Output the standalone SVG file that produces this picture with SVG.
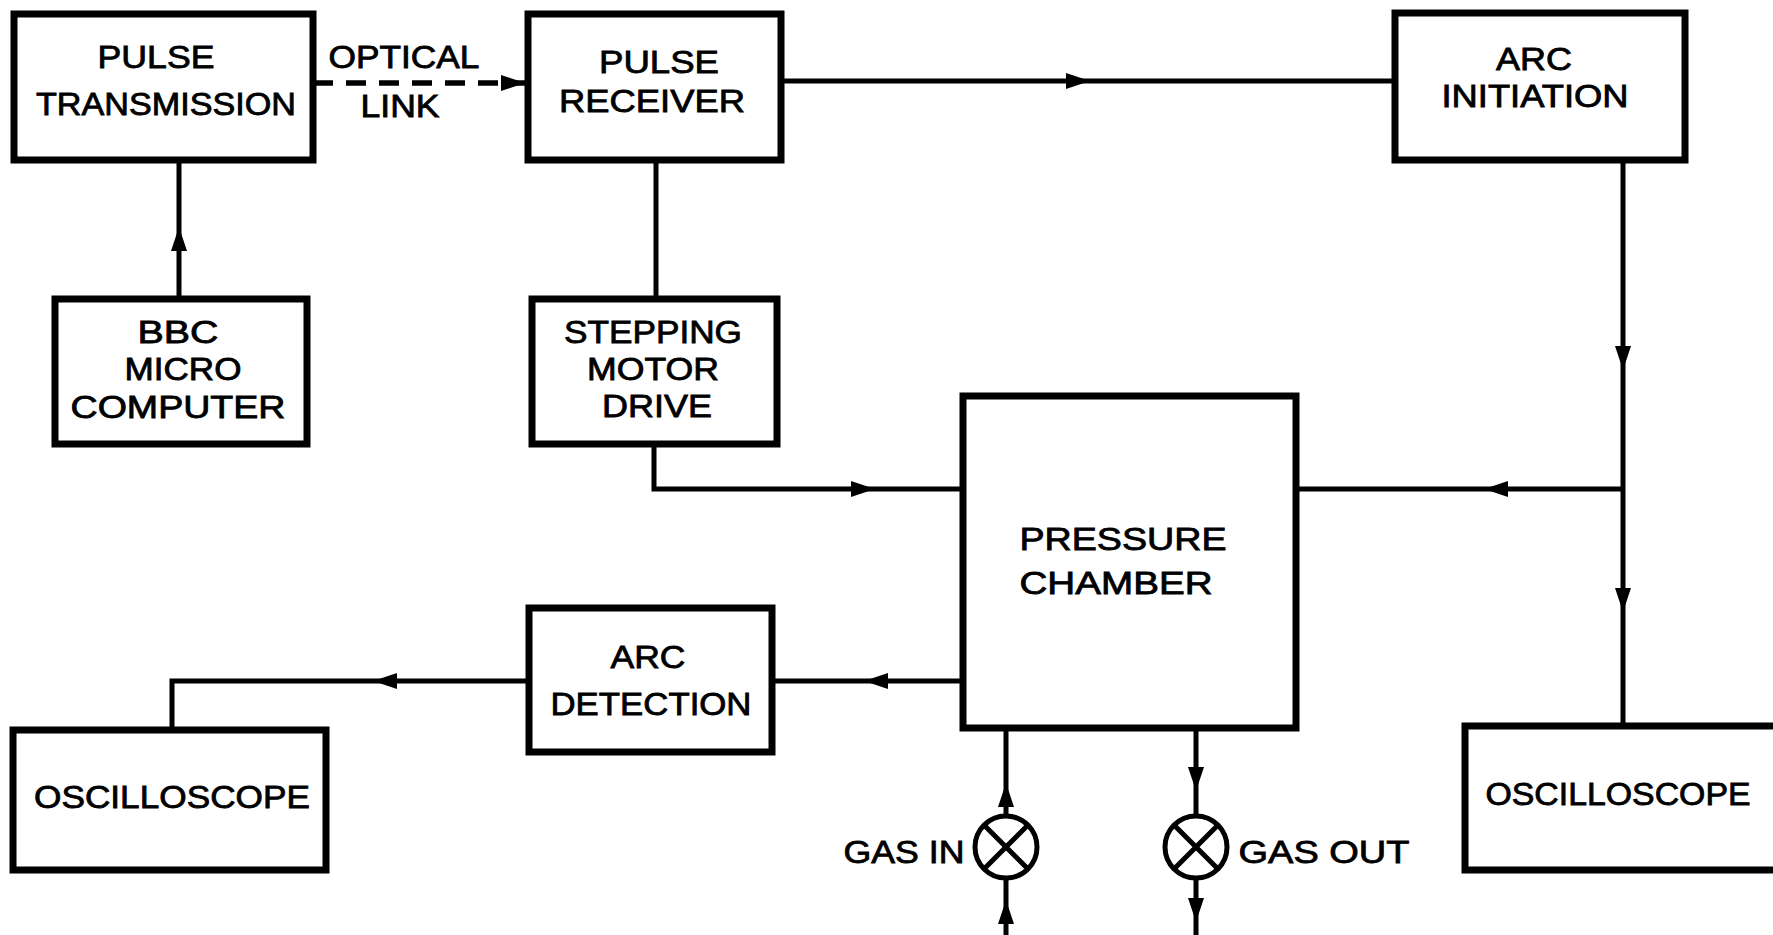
<svg xmlns="http://www.w3.org/2000/svg" xmlns:xlink="http://www.w3.org/1999/xlink" width="1773" height="935" viewBox="0 0 1773 935">
<style>
.box{fill:#fff;stroke:#000;stroke-width:7}
.ln{fill:none;stroke:#000;stroke-width:5}
.dash{fill:none;stroke:#000;stroke-width:5.5;stroke-dasharray:20 13}
.t{font-family:"Liberation Sans",Arial,sans-serif;font-size:31px;fill:#000;stroke:#000;stroke-width:0.8;text-anchor:middle}
.valve{fill:#fff;stroke:#000;stroke-width:5}
</style>
<defs>
<path id="ah" d="M0,0 L-24,-8 L-24,8 Z" fill="#000"/>
<marker id="me" markerUnits="userSpaceOnUse" markerWidth="26" markerHeight="20" refX="24" refY="10" orient="auto">
<path d="M0,2 L24,10 L0,18 Z" fill="#000"/>
</marker>
</defs>
<rect width="1773" height="935" fill="#fff"/>
<g id="connectors">
<path class="dash" d="M313,83 L525,83" marker-end="url(#me)"/>
<path class="ln" d="M781,81 L1395,81"/>
<use xlink:href="#ah" transform="translate(1090,81)"/>
<path class="ln" d="M179,160 L179,299"/>
<use xlink:href="#ah" transform="translate(179,227) rotate(-90)"/>
<path class="ln" d="M656,160 L656,299"/>
<path class="ln" d="M654,444 L654,489 L963,489"/>
<use xlink:href="#ah" transform="translate(875,489)"/>
<path class="ln" d="M1623,160 L1623,726"/>
<use xlink:href="#ah" transform="translate(1623,370) rotate(90)"/>
<use xlink:href="#ah" transform="translate(1623,612) rotate(90)"/>
<path class="ln" d="M1623,489 L1296,489"/>
<use xlink:href="#ah" transform="translate(1484,489) rotate(180)"/>
<path class="ln" d="M963,681 L772,681"/>
<use xlink:href="#ah" transform="translate(864,681) rotate(180)"/>
<path class="ln" d="M529,681 L172,681 L172,730"/>
<use xlink:href="#ah" transform="translate(373,681) rotate(180)"/>
<path class="ln" d="M1006,728 L1006,815"/>
<use xlink:href="#ah" transform="translate(1006,783) rotate(-90)"/>
<path class="ln" d="M1006,879 L1006,935"/>
<use xlink:href="#ah" transform="translate(1006,900) rotate(-90)"/>
<path class="ln" d="M1196,728 L1196,815"/>
<use xlink:href="#ah" transform="translate(1196,791) rotate(90)"/>
<path class="ln" d="M1196,879 L1196,935"/>
<use xlink:href="#ah" transform="translate(1196,922) rotate(90)"/>
</g>
<g id="optical_link_label">
<text class="t" x="404" y="68" textLength="151" lengthAdjust="spacingAndGlyphs">OPTICAL</text>
<text class="t" x="400" y="117" textLength="79" lengthAdjust="spacingAndGlyphs">LINK</text>
</g>
<g id="pulse_transmission">
<rect class="box" x="14" y="14" width="299" height="146"/>
<text class="t" x="156" y="68" textLength="117" lengthAdjust="spacingAndGlyphs">PULSE</text>
<text class="t" x="166" y="115" textLength="260" lengthAdjust="spacingAndGlyphs">TRANSMISSION</text>
</g>
<g id="pulse_receiver">
<rect class="box" x="528" y="14" width="253" height="146"/>
<text class="t" x="659" y="73" textLength="120" lengthAdjust="spacingAndGlyphs">PULSE</text>
<text class="t" x="652" y="112" textLength="186" lengthAdjust="spacingAndGlyphs">RECEIVER</text>
</g>
<g id="arc_initiation">
<rect class="box" x="1395" y="13" width="290" height="147"/>
<text class="t" x="1534" y="70" textLength="76" lengthAdjust="spacingAndGlyphs">ARC</text>
<text class="t" x="1535" y="107" textLength="187" lengthAdjust="spacingAndGlyphs">INITIATION</text>
</g>
<g id="bbc_micro_computer">
<rect class="box" x="55" y="299" width="252" height="145"/>
<text class="t" x="178" y="343" textLength="81" lengthAdjust="spacingAndGlyphs">BBC</text>
<text class="t" x="183" y="380" textLength="117" lengthAdjust="spacingAndGlyphs">MICRO</text>
<text class="t" x="178" y="418" textLength="215" lengthAdjust="spacingAndGlyphs">COMPUTER</text>
</g>
<g id="stepping_motor_drive">
<rect class="box" x="532" y="299" width="245" height="145"/>
<text class="t" x="653" y="343" textLength="178" lengthAdjust="spacingAndGlyphs">STEPPING</text>
<text class="t" x="653" y="380" textLength="132" lengthAdjust="spacingAndGlyphs">MOTOR</text>
<text class="t" x="657" y="417" textLength="110" lengthAdjust="spacingAndGlyphs">DRIVE</text>
</g>
<g id="pressure_chamber">
<rect class="box" x="963" y="396" width="333" height="332"/>
<text class="t" x="1123" y="550" textLength="207" lengthAdjust="spacingAndGlyphs">PRESSURE</text>
<text class="t" x="1116" y="594" textLength="193" lengthAdjust="spacingAndGlyphs">CHAMBER</text>
</g>
<g id="arc_detection">
<rect class="box" x="529" y="608" width="243" height="144"/>
<text class="t" x="648" y="668" textLength="75" lengthAdjust="spacingAndGlyphs">ARC</text>
<text class="t" x="651" y="715" textLength="201" lengthAdjust="spacingAndGlyphs">DETECTION</text>
</g>
<g id="oscilloscope_left">
<rect class="box" x="13" y="730" width="313" height="140"/>
<text class="t" x="172" y="808" textLength="276" lengthAdjust="spacingAndGlyphs">OSCILLOSCOPE</text>
</g>
<g id="oscilloscope_right">
<rect class="box" x="1465" y="726" width="330" height="144"/>
<text class="t" x="1618" y="805" textLength="265" lengthAdjust="spacingAndGlyphs">OSCILLOSCOPE</text>
</g>
<g id="gas_in_valve">
<circle class="valve" cx="1006" cy="847" r="31"/>
<path class="ln" d="M984,825 L1028,869 M1028,825 L984,869"/>
<text class="t" x="904" y="863" textLength="121" lengthAdjust="spacingAndGlyphs">GAS IN</text>
</g>
<g id="gas_out_valve">
<circle class="valve" cx="1196" cy="847" r="31"/>
<path class="ln" d="M1174,825 L1218,869 M1218,825 L1174,869"/>
<text class="t" x="1324" y="863" textLength="171" lengthAdjust="spacingAndGlyphs">GAS OUT</text>
</g>
</svg>
